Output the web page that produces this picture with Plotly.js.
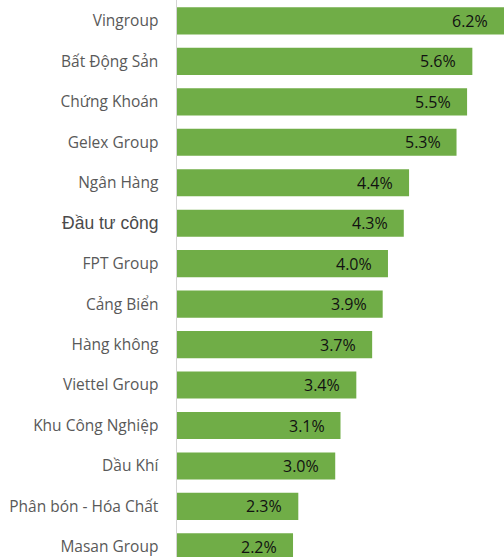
<!DOCTYPE html>
<html><head><meta charset="utf-8">
<script src="https://cdn.plot.ly/plotly-3.0.1.min.js"></script>
<style>html,body{margin:0;padding:0;background:#fff}#chart{width:504px;height:557px}</style>
</head><body><div id="chart"></div>
<script>
const categories = ["Vingroup","Bất Động Sản","Chứng Khoán","Gelex Group","Ngân Hàng","Đầu tư công","FPT Group","Cảng Biển","Hàng không","Viettel Group","Khu Công Nghiệp","Dầu Khí","Phân bón - Hóa Chất","Masan Group"];
const values = [6.2,5.6,5.5,5.3,4.4,4.3,4.0,3.9,3.7,3.4,3.1,3.0,2.3,2.2];
const labels = values.map(v => v.toFixed(1) + "%");
const ticktext = categories.map(c => c === "Đầu tư công"
  ? '<span style="font-family:Liberation Sans, Arial;font-size:17.5px;color:#4a4a4a">' + c + '</span>' : c);

const trace = {
  type: "bar", orientation: "h",
  x: values, y: categories,
  marker: {color: "#70AD47"},
  width: 0.67,
  hoverinfo: "none"
};
const annotations = values.map((v, i) => ({
  x: v, y: categories[i], xref: "x", yref: "y",
  text: labels[i], showarrow: false, xanchor: "right", yanchor: "middle",
  xshift: -14, yshift: 0,
  font: {family: "Open Sans, Noto Sans", size: 16, color: "#111111"}
}));
const layout = {
  width: 504, height: 557,
  margin: {l: 177, r: 0, t: 0, b: 0, pad: 0},
  paper_bgcolor: "#fff", plot_bgcolor: "#fff",
  showlegend: false,
  xaxis: {range: [0, 6.2], showgrid: false, zeroline: false, showticklabels: false, ticks: "", showline: false, fixedrange: true},
  yaxis: {
    type: "category", categoryorder: "array", categoryarray: categories,
    tickvals: categories, ticktext: ticktext,
    range: [13.25, -0.517],
    showgrid: false, zeroline: false, ticks: "",
    showline: true, linecolor: "#d4d4d4", linewidth: 1.5,
    ticklabelstandoff: 14,
    tickfont: {family: "Open Sans, Noto Sans", size: 15.5, color: "#595959"}
  },
  annotations: annotations
};
Plotly.newPlot("chart", [trace], layout, {displayModeBar: false, staticPlot: true});
</script></body></html>
